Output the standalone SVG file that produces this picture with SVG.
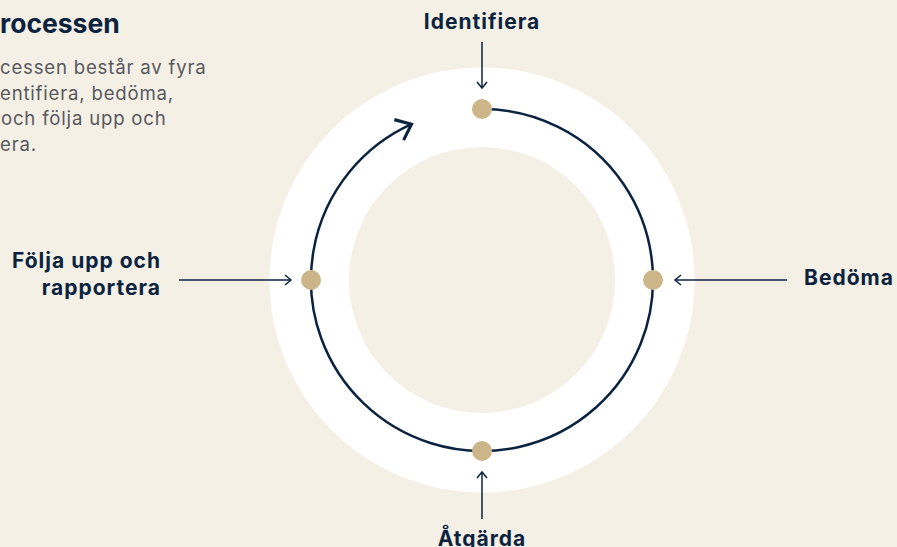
<svg xmlns="http://www.w3.org/2000/svg" width="897" height="547" viewBox="0 0 897 547">
  <style>
    .label { font-family: Inter, "Liberation Sans", sans-serif; font-weight: 700; font-size: 21px; letter-spacing: 1px; fill: #0c2340; }
    .title { font-family: Inter, "Liberation Sans", sans-serif; font-weight: 700; font-size: 26.5px; fill: #0c2340; }
    .body { font-family: Inter, "Liberation Sans", sans-serif; font-weight: 400; font-size: 18.6px; fill: #58595e; letter-spacing: 0.8px; }
    .pointer { stroke: #0c2340; stroke-width: 1.5; fill: none; marker-end: url(#chev); }
    .cycle { stroke: #0c2340; stroke-width: 2.5; fill: none; marker-end: url(#bigchev); }
    .dot { fill: #ccb689; }
  </style>
  <defs>
    <marker id="chev" markerUnits="userSpaceOnUse" markerWidth="16" markerHeight="16" viewBox="-10 -8 12 16" refX="0" refY="0" orient="auto">
      <path d="M-6,-5 L0,0 L-6,5" fill="none" stroke="#0c2340" stroke-width="1.5"/>
    </marker>
    <marker id="bigchev" markerUnits="userSpaceOnUse" markerWidth="30" markerHeight="30" viewBox="-15 -12 18 24" refX="0" refY="0" orient="auto">
      <path d="M-11,-9 L0,0 L-11,9" fill="none" stroke="#0c2340" stroke-width="2.5"/>
    </marker>
  </defs>

  <rect width="897" height="547" fill="#f4f0e6"/>

  <!-- intro text -->
  <g id="intro">
    <text class="title" x="0" y="33">rocessen</text>
    <text class="body" x="0" y="74">cessen består av fyra</text>
    <text class="body" x="0" y="99.5">entifiera, bedöma,</text>
    <text class="body" x="1" y="125">och följa upp och</text>
    <text class="body" x="0" y="150.5">era.</text>
  </g>

  <!-- white ring -->
  <g id="ring">
    <circle cx="482" cy="280" r="212.5" fill="#ffffff"/>
    <circle cx="482" cy="280" r="133" fill="#f4f0e6"/>
  </g>

  <!-- connectors -->
  <g id="connectors">
    <path class="cycle" d="M482,109 A171,171 0 1,1 411.5,124.2"/>
    <line class="pointer" x1="482" y1="42" x2="482" y2="88"/>
    <line class="pointer" x1="787" y1="280" x2="675" y2="280"/>
    <line class="pointer" x1="482" y1="519" x2="482" y2="472"/>
    <line class="pointer" x1="179" y1="280" x2="291" y2="280"/>
  </g>

  <g id="identifiera">
    <circle class="dot" cx="482" cy="109" r="10"/>
    <text class="label" x="482" y="29" text-anchor="middle">Identifiera</text>
  </g>
  <g id="bedoma">
    <circle class="dot" cx="653" cy="280" r="10"/>
    <text class="label" x="804" y="285">Bedöma</text>
  </g>
  <g id="atgarda">
    <circle class="dot" cx="482" cy="451" r="10"/>
    <text class="label" x="482" y="546" text-anchor="middle">Åtgärda</text>
  </g>
  <g id="folja">
    <circle class="dot" cx="311" cy="280" r="10"/>
    <text class="label" x="161" y="267.5" text-anchor="end">Följa upp och</text>
    <text class="label" x="161" y="295" text-anchor="end">rapportera</text>
  </g>
</svg>
